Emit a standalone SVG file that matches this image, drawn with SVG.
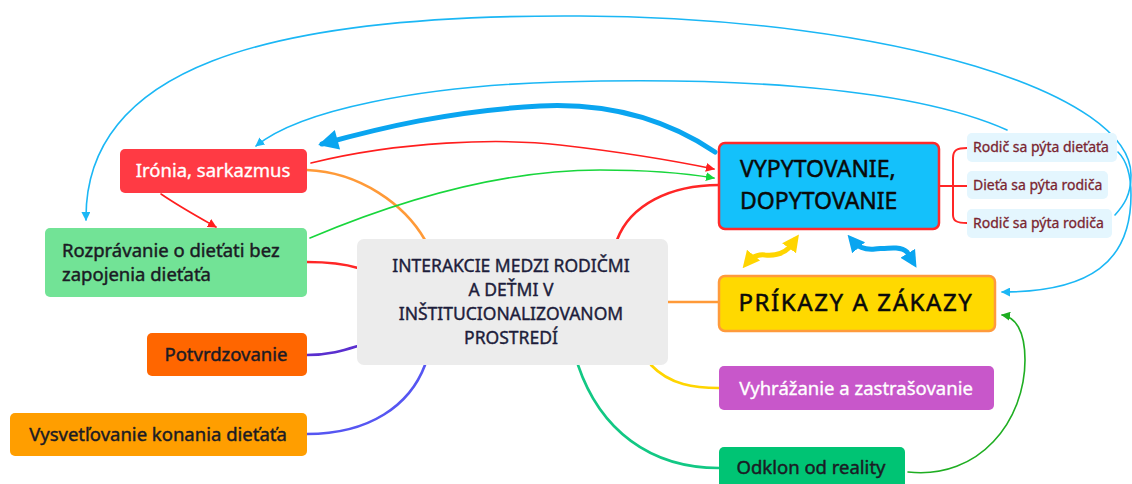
<svg xmlns="http://www.w3.org/2000/svg" width="1132" height="484" viewBox="0 0 1132 484">
  <defs>
    <style>
      text { font-family: "Noto Sans", "Open Sans", sans-serif; paint-order: stroke; stroke-linejoin: round; }
      .lbl { font-size: 18.5px; fill: #1b1b24; stroke: #1b1b24; stroke-width: 0.45; }
      .lbl-w { font-size: 18.5px; fill: #ffffff; stroke: #ffffff; stroke-width: 0.35; }
      .sub { font-size: 14px; fill: #7a2530; stroke: #7a2530; stroke-width: 0.3; }
      .big { font-size: 23px; fill: #0a0a0a; stroke: #0a0a0a; stroke-width: 0.5; }
      .big-wide { font-size: 24px; letter-spacing: 1.6px; fill: #0a0a0a; stroke: #0a0a0a; stroke-width: 0.5; }
      .hub { font-size: 17.5px; fill: #1d1d3b; stroke: #1d1d3b; stroke-width: 0.4; text-anchor: middle; }
      .c { fill: none; stroke-linecap: round; }
      .thin { stroke-width: 1.6; }
      .branch { stroke-width: 2.6; }
    </style>
    <marker id="ah-blue" viewBox="0 0 10 10" refX="9" refY="5" markerWidth="9" markerHeight="9" markerUnits="userSpaceOnUse" orient="auto">
      <path d="M0,0 L10,5 L0,10 Z" fill="#1bb7f5"/>
    </marker>
    <marker id="ah-red" viewBox="0 0 10 10" refX="9" refY="5" markerWidth="9" markerHeight="9" markerUnits="userSpaceOnUse" orient="auto">
      <path d="M0,0 L10,5 L0,10 Z" fill="#ff1e1e"/>
    </marker>
    <marker id="ah-green" viewBox="0 0 10 10" refX="9" refY="5" markerWidth="9" markerHeight="9" markerUnits="userSpaceOnUse" orient="auto">
      <path d="M0,0 L10,5 L0,10 Z" fill="#18d63c"/>
    </marker>
    <marker id="ah-dgreen" viewBox="0 0 10 10" refX="9" refY="5" markerWidth="9" markerHeight="9" markerUnits="userSpaceOnUse" orient="auto">
      <path d="M0,0 L10,5 L0,10 Z" fill="#1fae22"/>
    </marker>
    <marker id="ah-thick" viewBox="0 0 10 10" refX="8" refY="5" markerWidth="22" markerHeight="20" markerUnits="userSpaceOnUse" orient="auto">
      <path d="M0,0 L10,5 L0,10 Z" fill="#0aa5f0"/>
    </marker>
    <marker id="ah-yel" viewBox="0 0 10 10" refX="6" refY="5" markerWidth="17" markerHeight="19" markerUnits="userSpaceOnUse" orient="auto-start-reverse">
      <path d="M0,0 L10,5 L0,10 Z" fill="#ffd500"/>
    </marker>
    <marker id="ah-sky" viewBox="0 0 10 10" refX="6" refY="5" markerWidth="17" markerHeight="19" markerUnits="userSpaceOnUse" orient="auto-start-reverse">
      <path d="M0,0 L10,5 L0,10 Z" fill="#0aa5f0"/>
    </marker>
  </defs>

  <rect width="1132" height="484" fill="#ffffff"/>

  <!-- connectors -->
  <g id="connectors">
    <!-- branches from the central topic -->
    <path class="c branch" stroke="#ff9a38" d="M307,170 C360,172 405,205 425,240"/>
    <path class="c branch" stroke="#ff2626" d="M307,262 C330,262 345,264 358,268"/>
    <path class="c branch" stroke="#5a2fcf" d="M307,355 C330,355 345,350 358,346"/>
    <path class="c branch" stroke="#5656f2" d="M307,434 C370,434 410,405 425,365"/>
    <path class="c branch" stroke="#ff2626" d="M719,185 C670,185 630,205 617,240"/>
    <path class="c branch" stroke="#ff9a38" d="M668,302 L719,302"/>
    <path class="c branch" stroke="#ffd500" d="M651,365 C670,385 695,388 719,388"/>
    <path class="c branch" stroke="#12c884" d="M578,365 C600,430 650,468 719,468"/>

    <!-- bracket to the sub-topics -->
    <path class="c" stroke="#ff2626" stroke-width="2" d="M939,186 L967,186 M967,148 C957,148 953,150 953,158 L953,215 C953,221 957,223 967,223"/>

    <!-- relationship arrows -->
    <path class="c thin" stroke="#1bb7f5" d="M1115,215 C1124,205 1131,195 1131,175 C1131,95 900,18 580,16 C260,14 84,70 86,220" marker-end="url(#ah-blue)"/>
    <path class="c thin" stroke="#1bb7f5" d="M1118,152 C1126,160 1131,172 1131,195 C1131,262 1090,292 1002,292" marker-end="url(#ah-blue)"/>
    <path class="c thin" stroke="#1bb7f5" d="M1007,130 C900,82 700,78 560,82 C420,86 300,110 256,146" marker-end="url(#ah-blue)"/>
    <path class="c" stroke="#0aa5f0" stroke-width="5" d="M715,152 C660,115 600,103 540,106 C450,111 380,128 322,144" marker-end="url(#ah-thick)"/>
    <path class="c thin" stroke="#ff1e1e" d="M311,163 C400,141 500,138 560,145 C630,153 680,162 714,169" marker-end="url(#ah-red)"/>
    <path class="c thin" stroke="#18d63c" d="M310,238 C400,200 500,170 600,170 C650,170 690,174 714,178" marker-end="url(#ah-green)"/>
    <path class="c thin" stroke="#ff1e1e" d="M161,194 C180,207 200,218 216,227" marker-end="url(#ah-red)"/>
    <path class="c thin" stroke="#1fae22" d="M908,472 C980,480 1025,420 1025,360 C1025,330 1015,317 1002,315" marker-end="url(#ah-dgreen)"/>

    <!-- wavy two-way arrows between the two main categories -->
    <path class="c" stroke="#ffd500" stroke-width="5" d="M747,263 C752,257 757,254 765,255 C775,256 784,253 790,247 L795,240" marker-start="url(#ah-yel)" marker-end="url(#ah-yel)"/>
    <path class="c" stroke="#0aa5f0" stroke-width="5" d="M852,240 C858,247 864,250 875,249 C889,248 901,246 907,252 L913,262" marker-start="url(#ah-sky)" marker-end="url(#ah-sky)"/>
  </g>

  <!-- central topic -->
  <g id="node-center">
    <rect x="357" y="239" width="311" height="126" rx="7" fill="#ececec"/>
    <text class="hub" x="511" y="272">INTERAKCIE MEDZI RODIČMI</text>
    <text class="hub" x="511" y="296">A DEŤMI V</text>
    <text class="hub" x="511" y="320">INŠTITUCIONALIZOVANOM</text>
    <text class="hub" x="511" y="344">PROSTREDÍ</text>
  </g>

  <g id="node-ironia">
    <rect x="120" y="149" width="187" height="44" rx="5" fill="#ff3a44"/>
    <text class="lbl-w" x="213" y="177" text-anchor="middle" font-size="18">Irónia, sarkazmus</text>
  </g>

  <g id="node-rozpravanie">
    <rect x="45" y="228" width="262" height="69" rx="5" fill="#72e396"/>
    <text class="lbl" x="62" y="257">Rozprávanie o dieťati bez</text>
    <text class="lbl" x="62" y="281">zapojenia dieťaťa</text>
  </g>

  <g id="node-potvrdzovanie">
    <rect x="147" y="333" width="160" height="43" rx="5" fill="#ff6600"/>
    <text class="lbl" x="226" y="361" text-anchor="middle">Potvrdzovanie</text>
  </g>

  <g id="node-vysvetlovanie">
    <rect x="10" y="413" width="297" height="43" rx="5" fill="#ff9e00"/>
    <text class="lbl" x="158" y="441" text-anchor="middle">Vysvetľovanie konania dieťaťa</text>
  </g>

  <g id="node-vypytovanie">
    <rect x="719" y="143" width="220" height="86" rx="6" fill="#14c1fb" stroke="#ff2a2a" stroke-width="2.5"/>
    <text class="big" x="740" y="177">VYPYTOVANIE,</text>
    <text class="big" x="740" y="209">DOPYTOVANIE</text>
  </g>

  <g id="node-rodic-dieta">
    <rect x="967" y="133" width="150" height="29" rx="5" fill="#e4f6fe"/>
    <text class="sub" x="973" y="152">Rodič sa pýta dieťaťa</text>
  </g>

  <g id="node-dieta-rodic">
    <rect x="967" y="171" width="141" height="28" rx="5" fill="#e4f6fe"/>
    <text class="sub" x="973" y="190">Dieťa sa pýta rodiča</text>
  </g>

  <g id="node-rodic-rodic">
    <rect x="967" y="209" width="145" height="29" rx="5" fill="#e4f6fe"/>
    <text class="sub" x="973" y="228">Rodič sa pýta rodiča</text>
  </g>

  <g id="node-prikazy">
    <rect x="719" y="276" width="276" height="55" rx="6" fill="#ffd900" stroke="#ff9a3c" stroke-width="2.5"/>
    <text class="big-wide" x="856" y="311" text-anchor="middle">PRÍKAZY A ZÁKAZY</text>
  </g>

  <g id="node-vyhrazanie">
    <rect x="719" y="366" width="275" height="44" rx="5" fill="#c857ca"/>
    <text class="lbl-w" x="856" y="395" text-anchor="middle">Vyhrážanie a zastrašovanie</text>
  </g>

  <g id="node-odklon">
    <rect x="719" y="447" width="186" height="44" rx="5" fill="#00c474"/>
    <text class="lbl" x="811" y="474" text-anchor="middle">Odklon od reality</text>
  </g>
</svg>
